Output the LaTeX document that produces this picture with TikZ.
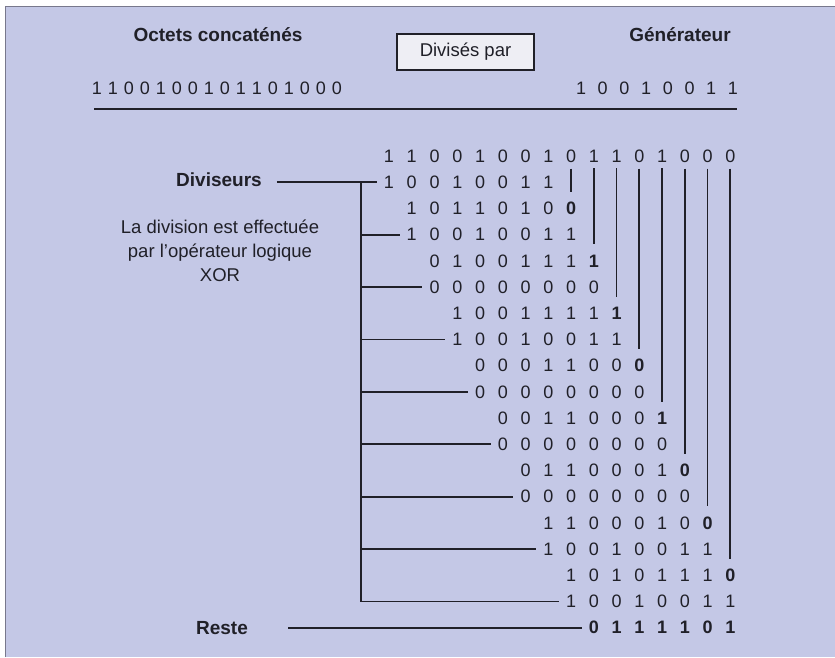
\documentclass[tikz,border=0pt]{standalone}
\usepackage{fontspec}
\setmainfont{Liberation Sans}
\usepackage{xcolor}
\usepackage{tikz}
\usetikzlibrary{positioning, calc}

\definecolor{paper}{RGB}{196,200,230}
\definecolor{ink}{RGB}{32,32,40}
\definecolor{boxfill}{RGB}{238,238,244}
\definecolor{edge}{RGB}{120,120,140}

\begin{document}
\begin{tikzpicture}[x=1pt, y=-1pt,
  bit/.style={inner sep=0pt, text=ink, font=\fontsize{18}{18}\selectfont},
  hibit/.style={bit, font=\fontsize{18}{18}\selectfont\bfseries},
  lbl/.style={inner sep=0pt, text=ink, font=\fontsize{19}{19}\selectfont\bfseries},
  note/.style={inner sep=0pt, text=ink, align=center, font=\fontsize{18.5}{24}\selectfont},
  boxed/.style={draw=ink, line width=1.4pt, fill=boxfill, minimum width=137pt,
                minimum height=36pt, text=ink, font=\fontsize{18.5}{18.5}\selectfont},
  rule/.style={draw=ink, line width=1.8pt},
]
  \useasboundingbox (0,0) rectangle (835,657);
  \fill[white] (0,0) rectangle (835,657);
  \fill[paper] (5,6) rectangle (835,657);
  \draw[edge, line width=0.8pt] (5,657) -- (5,6) -- (835,6);

  % header
  \node[lbl] (octets) at (218,35) {Octets concaténés};
  \node[lbl] (gen) at (680,35) {Générateur};
  \node[boxed] (divpar) at (465.5,52) {Divisés par};

  \foreach \b [count=\i from 0] in {1,1,0,0,1,0,0,1,0,1,1,0,1,0,0,0}
    \node[bit] (msg\i) at (97+16*\i, 88) {\b};
  \foreach \b [count=\i from 0] in {1,0,0,1,0,0,1,1}
    \node[bit] (poly\i) at (581+21.7*\i, 88) {\b};

  \coordinate (ruleL) at (94,109);
  \coordinate (ruleR) at (737,109);
  \draw[rule] (ruleL) -- (ruleR);

  % division
  \foreach \b [count=\c from 0] in {1,1,0,0,1,0,0,1,0,1,1,0,1,0,0,0}
    \node[bit] (r0-\c) at ({389+22.75*\c}, 156) {\b};

  \foreach \k/\bits in {1/{1,0,0,1,0,0,1,1}, 2/{1,0,1,1,0,1,0,\textbf{0}},
      3/{1,0,0,1,0,0,1,1}, 4/{0,1,0,0,1,1,1,\textbf{1}},
      5/{0,0,0,0,0,0,0,0}, 6/{1,0,0,1,1,1,1,\textbf{1}},
      7/{1,0,0,1,0,0,1,1}, 8/{0,0,0,1,1,0,0,\textbf{0}},
      9/{0,0,0,0,0,0,0,0}, 10/{0,0,1,1,0,0,0,\textbf{1}},
      11/{0,0,0,0,0,0,0,0}, 12/{0,1,1,0,0,0,1,\textbf{0}},
      13/{0,0,0,0,0,0,0,0}, 14/{1,1,0,0,0,1,0,\textbf{0}},
      15/{1,0,0,1,0,0,1,1}, 16/{1,0,1,0,1,1,1,\textbf{0}},
      17/{1,0,0,1,0,0,1,1}}{
    \pgfmathtruncatemacro\s{\k/2}
    \foreach \b [count=\j from 0] in \bits {
      \pgfmathtruncatemacro\c{\s+\j}
      \node[bit] (r\k-\c) at ({389+22.75*\c}, {156+26.2*\k}) {\b};
    }
  }
  \foreach \b [count=\c from 9] in {0,1,1,1,1,0,1}
    \node[hibit] (r18-\c) at ({389+22.75*\c}, {156+26.2*18}) {\b};

  % lowered bits
  \foreach \m in {0,...,7}{
    \pgfmathtruncatemacro\c{8+\m}
    \pgfmathtruncatemacro\k{2+2*\m}
    \draw[rule] ([yshift=-6pt]r0-\c.south) -- ([yshift=10pt]r\k-\c.north);
  }

  % divisors
  \node[lbl] (div) at (219,180) {Diviseurs};
  \node[note] (xor) at (220,251) {La division est effectuée\\par l'opérateur logique\\XOR};
  \coordinate (brk1) at (361, {156+26.2});
  \coordinate (brk17) at (361, {156+26.2*17});
  \draw[rule] ([xshift=15pt]div.east |- r1-0.west) -- ([xshift=-7pt]r1-0.west);
  \draw[rule] (brk1) -- (brk17) -- ([xshift=-7pt]r17-8.west);
  \foreach \k in {3,5,...,15}{
    \pgfmathtruncatemacro\s{\k/2}
    \coordinate (brk\k) at (361, {156+26.2*\k});
    \draw[rule] (brk\k) -- ([xshift=-7pt]r\k-\s.west);
  }

  % remainder
  \node[lbl] (reste) at (222,628) {Reste};
  \draw[rule] ([xshift=40pt]reste.east |- r18-9.west) -- ([xshift=-7pt]r18-9.west);
\end{tikzpicture}
\end{document}
